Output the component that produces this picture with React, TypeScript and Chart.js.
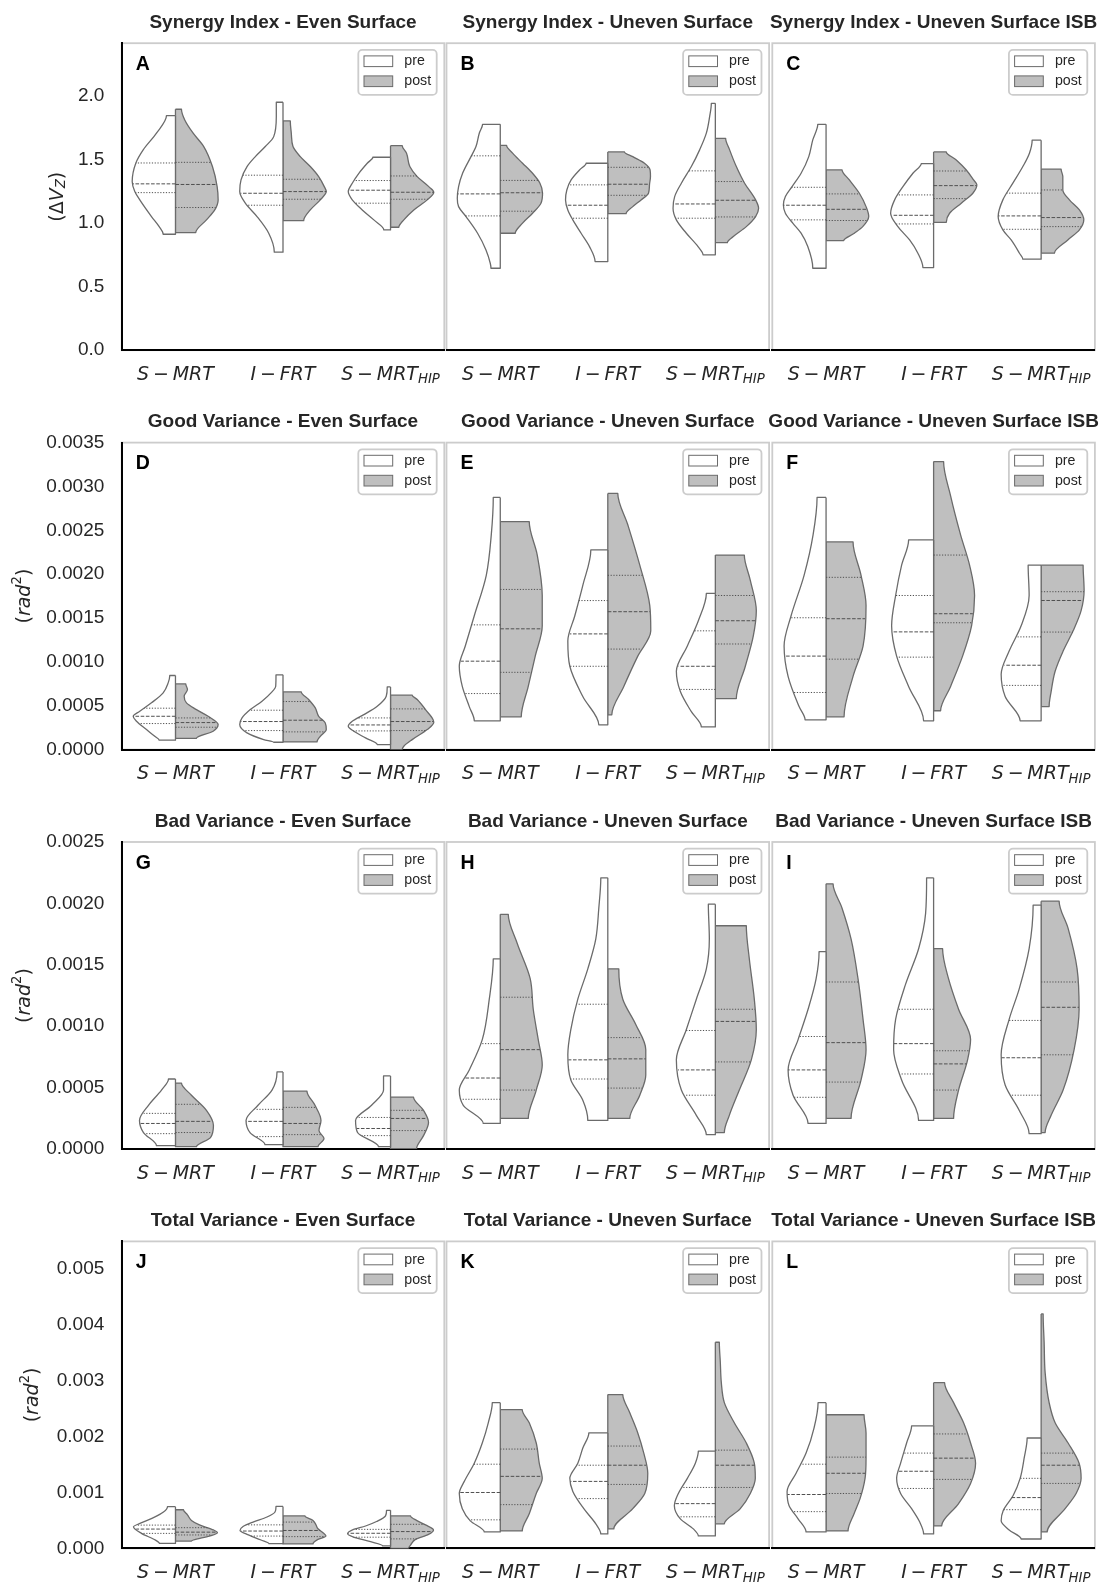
import { useEffect, useRef } from 'react';
import { Chart, registerables } from 'chart.js';

Chart.register(...registerables);

type Profile = [number, number][]; // [value, density width] from top to bottom

// ---------------- labels ----------------
const CATEGORIES = ['S − MRT', 'I − FRT', 'S − MRT_{HIP}'];
const SERIES = ['pre', 'post'];
const MEASURES = ['Synergy Index', 'Good Variance', 'Bad Variance', 'Total Variance'];
const CONDITIONS = ['Even Surface', 'Uneven Surface', 'Uneven Surface ISB'];
const LETTERS = ['A', 'B', 'C', 'D', 'E', 'F', 'G', 'H', 'I', 'J', 'K', 'L'];
const Y_TITLES = ['(ΔV_{Z})', '(rad^{2})', '(rad^{2})', '(rad^{2})'];

const TICKS_SYNERGY = [0, 0.5, 1.0, 1.5, 2.0];
const TICK_LABELS_SYNERGY = ['0.0', '0.5', '1.0', '1.5', '2.0'];
const TICKS_GOOD = [0, 0.0005, 0.001, 0.0015, 0.002, 0.0025, 0.003, 0.0035];
const TICK_LABELS_GOOD = ['0.0000', '0.0005', '0.0010', '0.0015', '0.0020', '0.0025', '0.0030', '0.0035'];
const TICKS_BAD = [0, 0.0005, 0.001, 0.0015, 0.002, 0.0025];
const TICK_LABELS_BAD = ['0.0000', '0.0005', '0.0010', '0.0015', '0.0020', '0.0025'];
const TICKS_TOTAL = [0, 0.001, 0.002, 0.003, 0.004, 0.005];
const TICK_LABELS_TOTAL = ['0.000', '0.001', '0.002', '0.003', '0.004', '0.005'];
const Y_MAX = [2.412, 0.0035, 0.0025, 0.00548];

// ---------------- violin data (per category: S-MRT, I-FRT, S-MRT_HIP) ----------------
// Synergy Index - Even Surface
const A_PRE: Profile[] = [
  [[1.843, 9], [1.705, 19], [1.574, 32.3], [1.469, 39.7], [1.325, 43.3], [1.246, 40.7], [1.181, 35.7], [1.05, 24], [0.971, 16.3], [0.911, 12.3]],
  [[1.948, 6.7], [1.835, 6.7], [1.678, 9.3], [1.6, 17.7], [1.521, 27.7], [1.443, 36], [1.338, 42], [1.246, 43.3], [1.155, 37.7], [1.05, 26], [0.919, 14.3], [0.77, 8.7]],
  [[1.516, 17.7], [1.469, 23.3], [1.39, 31.7], [1.312, 38.3], [1.246, 42.3], [1.181, 38.3], [1.102, 28.3], [1.024, 16.7], [0.945, 6.7]],
];
const A_POST: Profile[] = [
  [[1.893, 6], [1.809, 9.3], [1.705, 17.7], [1.6, 28.3], [1.443, 37], [1.285, 41.7], [1.181, 42.7], [1.102, 39.3], [1.024, 31], [0.924, 20.3]],
  [[1.801, 7.3], [1.705, 8.3], [1.6, 10], [1.521, 17.3], [1.443, 27.3], [1.364, 35.7], [1.285, 41.3], [1.246, 43.3], [1.181, 37.3], [1.102, 27.3], [1.018, 20.7]],
  [[1.607, 11.7], [1.548, 16], [1.443, 19.3], [1.364, 26.7], [1.285, 38.3], [1.241, 43.3], [1.181, 36.7], [1.102, 23.3], [1.024, 13.3], [0.966, 8.3]],
];
const A_PRE_Q = [[1.471, 1.307, 1.238], [1.375, 1.233, 1.139], [1.333, 1.257, 1.155]];
const A_POST_Q = [[1.476, 1.302, 1.121], [1.343, 1.246, 1.186], [1.369, 1.241, 1.186]];

// Synergy Index - Uneven Surface
const B_PRE: Profile[] = [
  [[1.775, 17.7], [1.705, 21], [1.6, 24.3], [1.521, 29.3], [1.39, 37.7], [1.285, 41.7], [1.194, 43], [1.128, 41.7], [1.05, 34.3], [0.919, 22.7], [0.788, 14.3], [0.683, 10], [0.644, 9.3]],
  [[1.469, 21.7], [1.416, 28.3], [1.338, 36.7], [1.259, 41], [1.181, 42.3], [1.102, 40], [1.024, 35], [0.919, 26.7], [0.814, 18.3], [0.696, 12.7]],
  [[1.94, 4], [1.835, 5.7], [1.705, 9], [1.574, 15.7], [1.443, 24], [1.312, 34], [1.207, 40.7], [1.115, 42.3], [1.024, 39], [0.919, 29], [0.814, 17.3], [0.749, 12.3]],
];
const B_POST: Profile[] = [
  [[1.61, 6.3], [1.548, 12.3], [1.469, 22.3], [1.39, 32.3], [1.312, 39.7], [1.233, 42.3], [1.155, 40.7], [1.076, 32.3], [0.998, 22.3], [0.919, 15]],
  [[1.558, 16.7], [1.521, 25], [1.469, 36.7], [1.416, 42.3], [1.364, 42.7], [1.299, 41.7], [1.233, 40.7], [1.181, 33.3], [1.128, 25], [1.073, 18.3]],
  [[1.665, 10.3], [1.574, 14.3], [1.443, 21], [1.312, 29.3], [1.181, 40.3], [1.115, 43.3], [1.05, 40.3], [0.971, 31], [0.892, 17.7], [0.845, 12]],
];
const B_PRE_Q = [[1.527, 1.228, 1.055], [1.299, 1.139, 1.037], [1.409, 1.149, 1.037]];
const B_POST_Q = [[1.334, 1.237, 1.092], [1.437, 1.304, 1.217], [1.325, 1.178, 1.047]];

// Synergy Index - Uneven Surface ISB
const C_PRE: Profile[] = [
  [[1.775, 8.3], [1.652, 13.3], [1.521, 17.3], [1.39, 25], [1.285, 34], [1.207, 40.7], [1.141, 42.7], [1.076, 40.7], [0.998, 33.3], [0.919, 25], [0.814, 18.3], [0.644, 13.3]],
  [[1.466, 12.3], [1.39, 20.7], [1.285, 30.7], [1.181, 39], [1.076, 43], [0.971, 35.7], [0.866, 24], [0.762, 15.7], [0.649, 10.7]],
  [[1.65, 9], [1.548, 11.7], [1.443, 18.3], [1.312, 28.3], [1.181, 38.3], [1.05, 43], [0.945, 38.3], [0.866, 30], [0.762, 21.7], [0.715, 18.3]],
];
const C_POST: Profile[] = [
  [[1.416, 16], [1.338, 23.3], [1.233, 33.3], [1.128, 40], [1.05, 42.7], [0.971, 36.7], [0.919, 28.3], [0.861, 17.7]],
  [[1.558, 12.7], [1.495, 22.7], [1.416, 32.7], [1.338, 40], [1.299, 43.3], [1.233, 39.3], [1.155, 27.7], [1.076, 16], [1.005, 12.7]],
  [[1.422, 20], [1.364, 21.7], [1.259, 21.7], [1.181, 28.3], [1.102, 38.3], [1.024, 42.7], [0.945, 38.3], [0.866, 26.7], [0.762, 13.3]],
];
const C_PRE_Q = [[1.28, 1.139, 1.024], [1.22, 1.06, 0.992], [1.234, 1.055, 0.95]];
const C_POST_Q = [[1.228, 1.107, 1.019], [1.408, 1.293, 1.191], [1.259, 1.042, 0.971]];

// Good Variance - Even Surface
const D_PRE: Profile[] = [
  [[0.000845, 5.7], [0.000761, 7.3], [0.000647, 12.3], [0.000533, 24], [0.000437, 35.7], [0.00038, 42.3], [0.000323, 39], [0.000228, 29], [0.000152, 20.7], [0.000107, 16.3]],
  [[0.000852, 7], [0.000723, 7.3], [0.000647, 12], [0.000552, 21], [0.000456, 32.7], [0.000361, 41], [0.000285, 43.3], [0.00019, 36], [0.000114, 19.3], [0.0000837, 9.3]],
  [[0.000715, 3.3], [0.000609, 4.3], [0.000495, 13.3], [0.000399, 26.7], [0.000323, 38.3], [0.000266, 42.3], [0.000209, 36.7], [0.000133, 25], [0.0000571, 13.3]],
];
const D_POST: Profile[] = [
  [[0.000749, 10.3], [0.000685, 12], [0.000609, 8.7], [0.000533, 11], [0.000456, 21], [0.00038, 32.7], [0.000285, 42.7], [0.000209, 37.7], [0.000129, 21]],
  [[0.000658, 18.3], [0.000571, 25.7], [0.000476, 32.3], [0.00038, 35.7], [0.000304, 42.3], [0.000228, 43.3], [0.000152, 37.3], [0.0000875, 34]],
  [[0.00062, 21.7], [0.000571, 26.7], [0.000456, 35], [0.000312, 43.3], [0.000228, 36.7], [0.000114, 21.7], [0.000038, 13.3], [0.0, 11.7]],
];
const D_PRE_Q = [[0.000472, 0.00038, 0.000297], [0.000449, 0.00032, 0.000217], [0.000361, 0.000281, 0.000213]];
const D_POST_Q = [[0.000361, 0.000308, 0.000255], [0.000548, 0.000335, 0.000202], [0.000464, 0.00032, 0.000217]];

// Good Variance - Uneven Surface
const E_PRE: Profile[] = [
  [[0.002875, 7], [0.002448, 9], [0.001987, 14], [0.001526, 26], [0.001181, 35], [0.00095, 41], [0.00072, 38], [0.00049, 31], [0.000328, 26]],
  [[0.002276, 17], [0.001872, 25], [0.001526, 33], [0.001238, 40], [0.00095, 38], [0.000605, 25], [0.000282, 9]],
  [[0.00178, 9], [0.001469, 17], [0.001181, 28], [0.000893, 39], [0.000662, 35], [0.000432, 24], [0.000259, 14]],
];
const E_POST: Profile[] = [
  [[0.002598, 29], [0.002218, 37], [0.001757, 42], [0.001411, 42], [0.001066, 35], [0.00072, 28], [0.000374, 21]],
  [[0.002921, 10], [0.002564, 20], [0.002103, 32], [0.001642, 42], [0.001354, 43], [0.001066, 30], [0.00072, 16], [0.000397, 4]],
  [[0.002218, 29], [0.00193, 35], [0.001584, 41], [0.001296, 38], [0.00095, 30], [0.000582, 21]],
];
const E_PRE_Q = [[0.001422, 0.001008, 0.000639], [0.001699, 0.001319, 0.00095], [0.001354, 0.00095, 0.000686]];
const E_POST_Q = [[0.001826, 0.001377, 0.000881], [0.001987, 0.001572, 0.001146], [0.001757, 0.001469, 0.001204]];

// Good Variance - Uneven Surface ISB
const F_PRE: Profile[] = [
  [[0.002875, 9], [0.002448, 13], [0.001987, 22], [0.001526, 35], [0.001181, 42], [0.000835, 38], [0.00049, 27], [0.00034, 21]],
  [[0.002391, 25], [0.002103, 32], [0.001757, 38], [0.001411, 42], [0.001066, 37], [0.00072, 25], [0.000328, 10]],
  [[0.002103, 13], [0.001757, 12], [0.001411, 20], [0.001123, 32], [0.000858, 40], [0.000605, 36], [0.000328, 21]],
];
const F_POST: Profile[] = [
  [[0.002368, 27], [0.001987, 35], [0.001642, 40], [0.001181, 37], [0.000835, 27], [0.000374, 18]],
  [[0.003284, 10], [0.002892, 17], [0.002448, 27], [0.002103, 36], [0.001757, 41], [0.001411, 38], [0.001066, 29], [0.00072, 17], [0.000443, 7]],
  [[0.002103, 42], [0.001815, 43], [0.001584, 40], [0.001354, 32], [0.001123, 22], [0.000893, 14], [0.000662, 10], [0.00049, 8]],
];
const F_PRE_Q = [[0.001503, 0.001066, 0.000651], [0.001757, 0.001342, 0.001054], [0.001285, 0.000962, 0.000732]];
const F_POST_Q = [[0.001964, 0.001492, 0.001031], [0.002218, 0.001549, 0.001446], [0.0018, 0.0017, 0.00134]];

// Bad Variance - Even Surface
const G_PRE: Profile[] = [
  [[0.00057, 7], [0.00048, 14], [0.000356, 27], [0.000233, 36], [0.000134, 32], [0.000027, 19]],
  [[0.000628, 6], [0.00048, 11], [0.000356, 25], [0.000233, 37], [0.000134, 33], [0.000035, 18]],
  [[0.000595, 7], [0.00048, 7], [0.000356, 19], [0.000233, 35], [0.000134, 33], [0.000019, 12]],
];
const G_POST: Profile[] = [
  [[0.000537, 6], [0.000438, 16], [0.000315, 31], [0.000192, 38], [0.000093, 35], [0.000019, 21]],
  [[0.000471, 24], [0.000356, 32], [0.000233, 38], [0.00015, 36], [0.000085, 41], [0.000019, 35]],
  [[0.000422, 23], [0.000315, 33], [0.000216, 38], [0.000109, 33], [0.000002, 26]],
];
const G_PRE_Q = [[0.00029, 0.000208, 0.000125], [0.000323, 0.000225, 0.000101], [0.000257, 0.000167, 0.000109]];
const G_POST_Q = [[0.000364, 0.000225, 0.000134], [0.000339, 0.000208, 0.000117], [0.000315, 0.000249, 0.00015]];

// Bad Variance - Uneven Surface
const H_PRE: Profile[] = [
  [[0.001549, 7], [0.00122, 11], [0.000891, 18], [0.000644, 31], [0.00048, 41], [0.000356, 37], [0.000208, 17]],
  [[0.002208, 7], [0.001961, 9], [0.001711, 12], [0.001467, 20], [0.00122, 30], [0.000973, 37], [0.000767, 40], [0.000562, 37], [0.000397, 25], [0.000233, 20]],
  [[0.001994, 7], [0.001711, 6], [0.001467, 9], [0.00122, 19], [0.000973, 29], [0.000726, 39], [0.00048, 34], [0.000274, 19], [0.000117, 9]],
];
const H_POST: Profile[] = [
  [[0.001911, 8], [0.001673, 17], [0.001385, 30], [0.001138, 33], [0.000891, 38], [0.000685, 42], [0.00048, 36], [0.000249, 28]],
  [[0.001467, 11], [0.00122, 15], [0.001014, 28], [0.000809, 38], [0.000603, 38], [0.000438, 32], [0.000249, 22]],
  [[0.001818, 31], [0.001549, 34], [0.00122, 39], [0.000973, 41], [0.000726, 36], [0.00048, 24], [0.000274, 14], [0.000134, 9]],
];
const H_PRE_Q = [[0.000858, 0.000578, 0.000405], [0.001179, 0.000726, 0.00057], [0.000965, 0.000644, 0.000438]];
const H_POST_Q = [[0.001236, 0.000809, 0.00048], [0.000907, 0.000734, 0.000496], [0.001138, 0.001039, 0.000709]];

// Bad Variance - Uneven Surface ISB
const I_PRE: Profile[] = [
  [[0.001607, 7], [0.001385, 10], [0.001138, 18], [0.000891, 28], [0.000644, 38], [0.000438, 33], [0.000208, 18]],
  [[0.002208, 7], [0.001919, 8], [0.001631, 15], [0.001343, 28], [0.001056, 38], [0.000809, 40], [0.000562, 32], [0.000233, 15]],
  [[0.001986, 8], [0.001631, 12], [0.001302, 22], [0.001056, 32], [0.000767, 40], [0.000521, 36], [0.000315, 22], [0.000125, 12]],
];
const I_POST: Profile[] = [
  [[0.002159, 7], [0.001961, 16], [0.001711, 25], [0.001385, 32], [0.001056, 37], [0.000809, 40], [0.000562, 35], [0.000249, 25]],
  [[0.001631, 9], [0.001385, 15], [0.001138, 25], [0.000891, 37], [0.000726, 34], [0.00048, 25], [0.000249, 20]],
  [[0.002018, 18], [0.001796, 27], [0.001467, 36], [0.001138, 38], [0.000809, 33], [0.00048, 22], [0.000274, 10], [0.000134, 4]],
];
const I_PRE_Q = [[0.000916, 0.000644, 0.000421], [0.001138, 0.000858, 0.000611], [0.001047, 0.000743, 0.000438]];
const I_POST_Q = [[0.00136, 0.000866, 0.000545], [0.0008, 0.000693, 0.00048], [0.00136, 0.001154, 0.000767]];

// Total Variance - Even Surface
const J_PRE: Profile[] = [
  [[0.000745, 8], [0.00065, 12], [0.00055, 22], [0.00045, 35], [0.000386, 42], [0.000268, 34], [0.000148, 20], [0.000089, 16]],
  [[0.00075, 7], [0.00065, 8], [0.00056, 16], [0.00047, 30], [0.00039, 40], [0.00032, 43], [0.00025, 36], [0.00015, 22], [0.000085, 14]],
  [[0.00068, 4], [0.00058, 5], [0.00048, 14], [0.0004, 25], [0.00033, 38], [0.00026, 43], [0.0002, 37], [0.00012, 20], [0.000046, 8]],
];
const J_POST: Profile[] = [
  [[0.00069, 8], [0.0006, 12], [0.0005, 16], [0.00042, 24], [0.00033, 38], [0.00028, 42], [0.00022, 34], [0.00015, 18], [0.00013, 16]],
  [[0.00058, 22], [0.0005, 30], [0.00042, 33], [0.00035, 35], [0.00028, 40], [0.00022, 43], [0.00016, 35], [0.00008, 30]],
  [[0.00058, 20], [0.0005, 26], [0.00042, 35], [0.00033, 43], [0.00025, 38], [0.00016, 25], [0.00006, 20], [0.0, 18]],
];
const J_PRE_Q = [[0.000416, 0.000345, 0.000268], [0.00042, 0.00031, 0.00022], [0.00034, 0.00027, 0.0002]];
const J_POST_Q = [[0.00037, 0.00029, 0.00024], [0.00047, 0.00032, 0.00021], [0.00043, 0.0003, 0.00017]];

// Total Variance - Uneven Surface
const K_PRE: Profile[] = [
  [[0.002602, 8], [0.002242, 12], [0.001881, 18], [0.001521, 26], [0.001196, 36], [0.00098, 41], [0.000709, 38], [0.000492, 30], [0.000294, 16]],
  [[0.002061, 19], [0.001791, 25], [0.001521, 30], [0.001251, 38], [0.001017, 35], [0.000709, 24], [0.000438, 12], [0.000258, 7]],
  [[0.001737, 17], [0.001521, 20], [0.001251, 28], [0.00098, 37], [0.000763, 41], [0.000528, 35], [0.000348, 22], [0.000222, 17]],
];
const K_POST: Profile[] = [
  [[0.002477, 22], [0.002242, 29], [0.001881, 36], [0.001521, 39], [0.001251, 42], [0.00098, 36], [0.000619, 29], [0.000312, 22]],
  [[0.002746, 15], [0.002422, 22], [0.002061, 30], [0.001701, 36], [0.001341, 40], [0.00098, 37], [0.000709, 25], [0.000348, 6]],
  [[0.00368, 4], [0.003319, 5], [0.002958, 6], [0.002602, 9], [0.002242, 19], [0.001881, 31], [0.001521, 39], [0.001251, 40], [0.00098, 35], [0.000709, 25], [0.000438, 9]],
];
const K_PRE_Q = [[0.001503, 0.000998, 0.00051], [0.001485, 0.001196, 0.000889], [0.001088, 0.000799, 0.000564]];
const K_POST_Q = [[0.001773, 0.001286, 0.000781], [0.001827, 0.001485, 0.001142], [0.001754, 0.001485, 0.001088]];

// Total Variance - Uneven Surface ISB
const L_PRE: Profile[] = [
  [[0.002602, 8], [0.002152, 12], [0.001701, 20], [0.001341, 30], [0.001017, 39], [0.000763, 37], [0.000528, 28], [0.000294, 20]],
  [[0.002188, 22], [0.001881, 27], [0.001521, 33], [0.001251, 37], [0.00098, 33], [0.000709, 22], [0.000474, 14], [0.000258, 10]],
  [[0.001971, 14], [0.001611, 17], [0.001251, 21], [0.000944, 28], [0.000673, 38], [0.000492, 40], [0.00033, 32], [0.000168, 20]],
];
const L_POST: Profile[] = [
  [[0.002386, 38], [0.002061, 40], [0.001611, 40], [0.001251, 39], [0.000889, 34], [0.000619, 28], [0.000312, 22]],
  [[0.002958, 11], [0.002602, 20], [0.002242, 30], [0.001881, 37], [0.001521, 42], [0.00116, 37], [0.000799, 25], [0.000402, 8]],
  [[0.004185, 2], [0.00368, 3], [0.003138, 4], [0.002602, 8], [0.002242, 14], [0.001881, 27], [0.001521, 38], [0.001251, 40], [0.00098, 35], [0.000709, 24], [0.000294, 6]],
];
const L_PRE_Q = [[0.001503, 0.000962, 0.000656], [0.001701, 0.001377, 0.00107], [0.001251, 0.000907, 0.000691]];
const L_POST_Q = [[0.001629, 0.001341, 0.00098], [0.002043, 0.001611, 0.001232], [0.001701, 0.001485, 0.00116]];

const PANEL_DATA = [
  { pre: A_PRE, post: A_POST, preQ: A_PRE_Q, postQ: A_POST_Q },
  { pre: B_PRE, post: B_POST, preQ: B_PRE_Q, postQ: B_POST_Q },
  { pre: C_PRE, post: C_POST, preQ: C_PRE_Q, postQ: C_POST_Q },
  { pre: D_PRE, post: D_POST, preQ: D_PRE_Q, postQ: D_POST_Q },
  { pre: E_PRE, post: E_POST, preQ: E_PRE_Q, postQ: E_POST_Q },
  { pre: F_PRE, post: F_POST, preQ: F_PRE_Q, postQ: F_POST_Q },
  { pre: G_PRE, post: G_POST, preQ: G_PRE_Q, postQ: G_POST_Q },
  { pre: H_PRE, post: H_POST, preQ: H_PRE_Q, postQ: H_POST_Q },
  { pre: I_PRE, post: I_POST, preQ: I_PRE_Q, postQ: I_POST_Q },
  { pre: J_PRE, post: J_POST, preQ: J_PRE_Q, postQ: J_POST_Q },
  { pre: K_PRE, post: K_POST, preQ: K_PRE_Q, postQ: K_POST_Q },
  { pre: L_PRE, post: L_POST, preQ: L_PRE_Q, postQ: L_POST_Q },
];
const ROW_TICKS = [TICKS_SYNERGY, TICKS_GOOD, TICKS_BAD, TICKS_TOTAL];
const ROW_TICK_LABELS = [TICK_LABELS_SYNERGY, TICK_LABELS_GOOD, TICK_LABELS_BAD, TICK_LABELS_TOTAL];

// ---------------- layout & style ----------------
const CHART_TOPS = [43.2, 442.6, 842.0, 1241.4];
const CHART_H = 307;
const CHART_LEFTS = [121.7, 446.5, 772.3];
const CHART_W = 322.6;
const CANVAS_TOPS = [0, 400, 799, 1198];
const CANVAS_HEIGHTS = [390, 390, 390, 385];
const CANVAS_LEFTS = [0, 430, 755];
const CANVAS_WIDTHS = [460, 355, 349];
const Y_TITLE_X = [58.3, 25, 25, 33];
const WIDTH_UNIT = 1 / 107.6; // category units per density-width unit

const SANS = '"Liberation Sans", Arial, Helvetica, sans-serif';
const MATH = '"DejaVu Sans", sans-serif';
const TEXT = '#262626';
const FRAME = '#cccccc';
const OUTLINE = '#6b6b6b';
const QUART = '#505050';
const PRE_FILL = '#ffffff';
const POST_FILL = '#bfbfbf';

function outline(center: number, side: number, prof: Profile) {
  const top = prof[0][0];
  const bot = prof[prof.length - 1][0];
  return [
    { x: center, y: top },
    ...prof.map(([v, w]) => ({ x: center + side * w * WIDTH_UNIT, y: v })),
    { x: center, y: bot },
    { x: center, y: top },
  ];
}

function widthAt(prof: Profile, v: number) {
  for (let i = 0; i < prof.length - 1; i++) {
    const [v0, w0] = prof[i];
    const [v1, w1] = prof[i + 1];
    if (v <= v0 && v >= v1) {
      const t = v0 === v1 ? 0 : (v0 - v) / (v0 - v1);
      return w0 + (w1 - w0) * t;
    }
  }
  return 0;
}

function makeDatasets(d: any) {
  const out: any[] = [];
  for (let i = 0; i < CATEGORIES.length; i++) {
    const halves: any[] = [
      [-1, d.pre[i], d.preQ[i], PRE_FILL],
      [1, d.post[i], d.postQ[i], POST_FILL],
    ];
    halves.forEach(([side, prof, qs, color]) => {
      out.push({
        data: outline(i, side, prof),
        fill: 'shape',
        backgroundColor: color,
        borderColor: OUTLINE,
        borderWidth: 1.3,
        borderJoinStyle: 'round',
        pointRadius: 0,
        pointHoverRadius: 0,
        cubicInterpolationMode: 'monotone',
        order: 2,
      });
      qs.forEach((q: number, k: number) => {
        out.push({
          data: [
            { x: i, y: q },
            { x: i + side * widthAt(prof, q) * WIDTH_UNIT, y: q },
          ],
          borderColor: QUART,
          borderWidth: 1,
          borderDash: k === 1 ? [3.6, 1.6] : [1.2, 1.6],
          pointRadius: 0,
          pointHoverRadius: 0,
          fill: false,
          order: 1,
        });
      });
    });
  }
  return out;
}

// ---- small math-text renderer (italic letters, sub/superscripts) ----
type Run = { t: string; it: boolean; lvl: number };
function parseMath(s: string): Run[] {
  const runs: Run[] = [];
  const add = (ch: string, lvl: number) => {
    const it = /[A-Za-z]/.test(ch);
    const last = runs[runs.length - 1];
    if (ch !== ' ' && last && last.t !== ' ' && last.it === it && last.lvl === lvl) last.t += ch;
    else runs.push({ t: ch, it, lvl });
  };
  let i = 0;
  while (i < s.length) {
    const ch = s[i];
    if ((ch === '_' || ch === '^') && s[i + 1] === '{') {
      const j = s.indexOf('}', i);
      for (const c of s.slice(i + 2, j)) add(c, ch === '_' ? 1 : -1);
      i = j + 1;
      continue;
    }
    add(ch, 0);
    i++;
  }
  return runs;
}

function drawMath(ctx: CanvasRenderingContext2D, s: string, cx: number, y: number, size: number, baseline: CanvasTextBaseline) {
  const runs = parseMath(s);
  const fontOf = (r: Run) => `${r.it ? 'italic ' : ''}${r.lvl ? size * 0.7 : size}px ${MATH}`;
  const widths = runs.map((r) => {
    if (r.t === ' ') return size * 0.2;
    ctx.font = fontOf(r);
    return ctx.measureText(r.t).width;
  });
  const total = widths.reduce((a, b) => a + b, 0);
  let x = cx - total / 2;
  ctx.textAlign = 'left';
  ctx.textBaseline = baseline;
  runs.forEach((r, k) => {
    if (r.t !== ' ') {
      ctx.font = fontOf(r);
      const dy = r.lvl === 1 ? size * 0.18 : r.lvl === -1 ? -size * 0.38 : 0;
      ctx.fillText(r.t, x, y + dy);
    }
    x += widths[k];
  });
}

function makeDecor(title: string, letter: string, yTitle: string | null, yTitleX: number) {
  return {
    id: 'panelDecor',
    beforeDraw(chart: any) {
      const { ctx, chartArea: a } = chart;
      ctx.save();
      ctx.strokeStyle = FRAME;
      ctx.lineWidth = 1.8;
      ctx.strokeRect(a.left, a.top, a.right - a.left, a.bottom - a.top);
      ctx.restore();
    },
    afterDraw(chart: any) {
      const { ctx, chartArea: a } = chart;
      const xs = chart.scales.x;
      ctx.save();
      // title
      ctx.fillStyle = TEXT;
      ctx.font = `bold 19px ${SANS}`;
      ctx.textAlign = 'center';
      ctx.textBaseline = 'middle';
      ctx.fillText(title, (a.left + a.right) / 2, a.top - 20.4);
      // panel letter
      ctx.fillStyle = '#000';
      ctx.font = `bold 19.5px ${SANS}`;
      ctx.textAlign = 'left';
      ctx.fillText(letter, a.left + 14, a.top + 21.4);
      // legend
      const bx = a.right - 86;
      const by = a.top + 6.7;
      ctx.fillStyle = '#ffffff';
      ctx.strokeStyle = FRAME;
      ctx.lineWidth = 1.8;
      ctx.beginPath();
      if (ctx.roundRect) ctx.roundRect(bx, by, 78.4, 45, 4);
      else ctx.rect(bx, by, 78.4, 45);
      ctx.fill();
      ctx.stroke();
      SERIES.forEach((name, k) => {
        const sy = by + 6 + k * 20;
        ctx.fillStyle = k === 0 ? PRE_FILL : POST_FILL;
        ctx.strokeStyle = OUTLINE;
        ctx.lineWidth = 1;
        ctx.fillRect(bx + 5.7, sy, 28.7, 10.7);
        ctx.strokeRect(bx + 5.7, sy, 28.7, 10.7);
        ctx.fillStyle = TEXT;
        ctx.font = `14.2px ${SANS}`;
        ctx.textAlign = 'left';
        ctx.textBaseline = 'middle';
        ctx.fillText(name, bx + 46, sy + 5.6);
      });
      // x tick labels
      ctx.fillStyle = TEXT;
      CATEGORIES.forEach((lab, i) => {
        drawMath(ctx, lab, xs.getPixelForValue(i), a.bottom + 29.7, 19, 'alphabetic');
      });
      // y title
      if (yTitle) {
        ctx.translate(yTitleX, (a.top + a.bottom) / 2);
        ctx.rotate(-Math.PI / 2);
        drawMath(ctx, yTitle, 0, 0, 19, 'middle');
      }
      ctx.restore();
    },
  };
}

function Panel({ idx }: { idx: number }) {
  const ref = useRef<HTMLCanvasElement | null>(null);
  const r = Math.floor(idx / 3);
  const c = idx % 3;
  const cw = CANVAS_WIDTHS[c];
  const ch = CANVAS_HEIGHTS[r];
  const cl = CANVAS_LEFTS[c];
  const ct = CANVAS_TOPS[r];

  useEffect(() => {
    if (!ref.current) return;
    const padTop = CHART_TOPS[r] - ct;
    const padBottom = ch - padTop - CHART_H;
    const yWidth = c === 0 ? CHART_LEFTS[0] - cl : 0;
    const padLeft = c === 0 ? 0 : CHART_LEFTS[c] - cl;
    const padRight = cw - (CHART_LEFTS[c] - cl) - CHART_W;
    const ticks = ROW_TICKS[r];
    const labels = ROW_TICK_LABELS[r];
    const chart = new Chart(ref.current, {
      type: 'line',
      data: { datasets: makeDatasets(PANEL_DATA[idx]) },
      options: {
        animation: false,
        responsive: false,
        indexAxis: 'y',
        events: [],
        layout: { padding: { top: padTop, bottom: padBottom, left: padLeft, right: padRight } },
        plugins: {
          legend: { display: false },
          tooltip: { enabled: false },
          title: { display: false },
        },
        scales: {
          x: {
            type: 'linear',
            min: -0.5,
            max: 2.5,
            bounds: 'data',
            z: 1,
            grid: { display: false, drawTicks: false },
            ticks: { display: false },
            border: { display: true, color: '#000000', width: 2 },
            afterFit: (s: any) => {
              s.height = 0;
            },
          },
          y: {
            type: 'linear',
            min: 0,
            max: Y_MAX[r],
            bounds: 'data',
            display: c === 0,
            z: 1,
            grid: { display: false, drawTicks: false },
            border: { display: true, color: '#000000', width: 2 },
            ticks: {
              autoSkip: false,
              padding: 17.4,
              color: TEXT,
              font: { family: SANS, size: 19 },
              callback: (_v: any, i: number) => labels[i],
            },
            afterBuildTicks: (s: any) => {
              s.ticks = ticks.map((v) => ({ value: v }));
            },
            afterFit: (s: any) => {
              s.width = yWidth;
            },
          },
        },
      } as any,
      plugins: [makeDecor(`${MEASURES[r]} - ${CONDITIONS[c]}`, LETTERS[idx], c === 0 ? Y_TITLES[r] : null, Y_TITLE_X[r])],
    });
    return () => chart.destroy();
  }, [idx]);

  return (
    <canvas
      ref={ref}
      width={cw}
      height={ch}
      style={{ position: 'absolute', left: cl, top: ct, width: cw, height: ch }}
    />
  );
}

export default function App() {
  return (
    <div
      style={{
        position: 'absolute',
        left: 0,
        top: 0,
        width: 1104,
        height: 1583,
        background: '#ffffff',
        overflow: 'hidden',
      }}
    >
      {PANEL_DATA.map((_, i) => (
        <Panel key={i} idx={i} />
      ))}
    </div>
  );
}
